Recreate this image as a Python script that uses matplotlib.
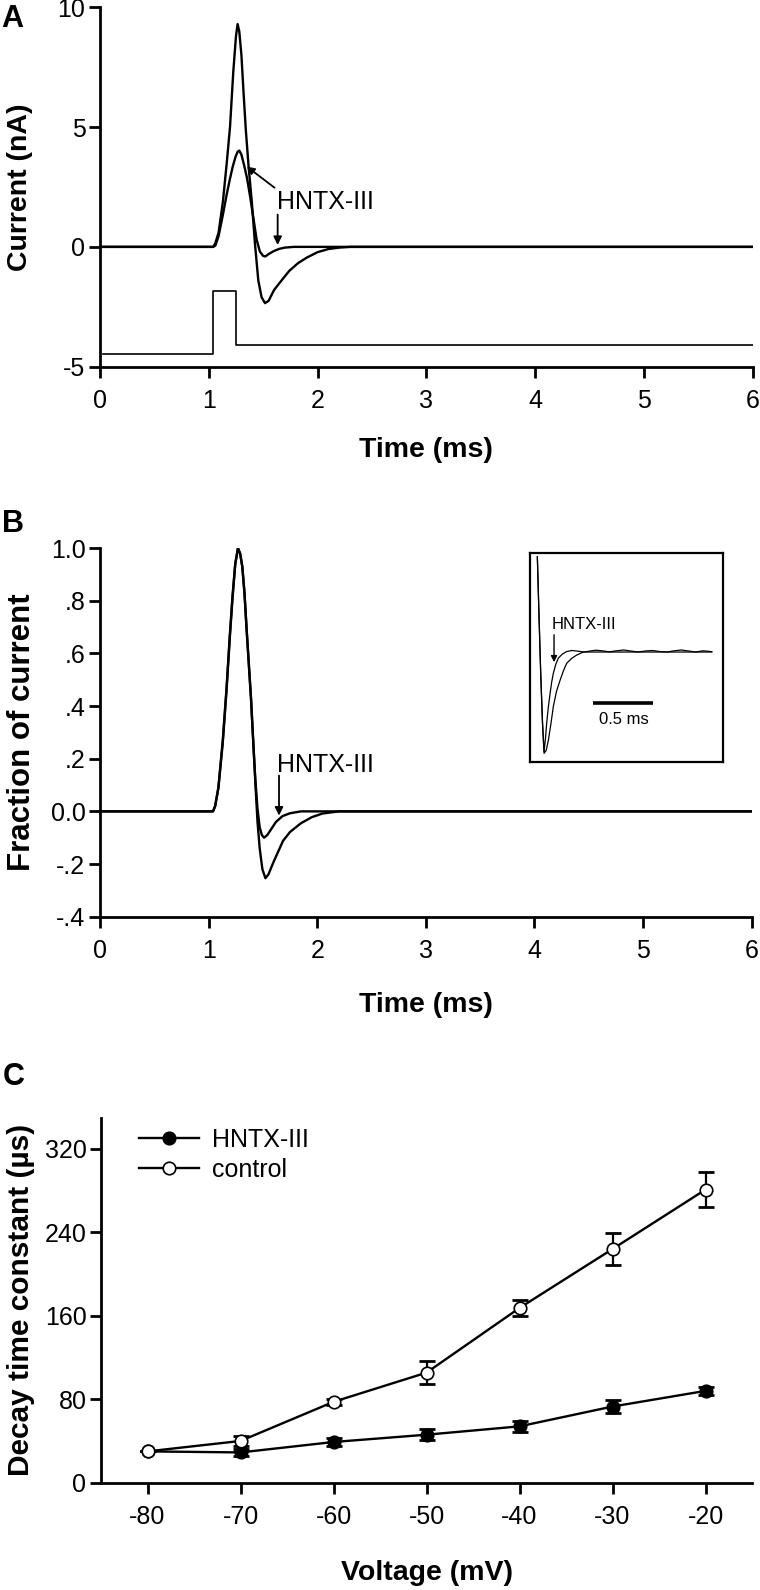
import matplotlib
matplotlib.use('Agg')
import matplotlib.pyplot as plt

plt.rcParams['font.family'] = ['Liberation Sans', 'DejaVu Sans']
plt.rcParams['axes.unicode_minus'] = False

# ---------------- panel A: currents (nA) against time (ms)
a_ctrl_t = [0.02, 1.04, 1.06, 1.09, 1.13, 1.165, 1.195, 1.225, 1.25, 1.265, 1.28, 1.30, 1.32,
            1.34, 1.365, 1.395, 1.425, 1.455, 1.485, 1.517, 1.55, 1.60, 1.66, 1.74, 1.82,
            1.90, 2.00, 2.10, 2.20, 2.30, 6.0]
a_ctrl_v = [0.0, 0.0, 0.15, 0.6, 1.9, 3.5, 5.0, 7.3, 8.8, 9.3, 9.0, 8.0, 6.4,
            4.9, 3.4, 1.9, 0.1, -1.4, -2.1, -2.35, -2.25, -1.8, -1.45, -1.0, -0.68,
            -0.45, -0.22, -0.09, -0.03, 0.0, 0.0]
a_hntx_t = [0.02, 1.04, 1.06, 1.09, 1.13, 1.165, 1.195, 1.22, 1.245, 1.265, 1.28, 1.30, 1.325,
            1.35, 1.38, 1.41, 1.44, 1.47, 1.50, 1.52, 1.55, 1.60, 1.65, 1.70, 1.78, 6.0]
a_hntx_v = [0.0, 0.0, 0.05, 0.45, 1.35, 2.2, 2.85, 3.35, 3.75, 3.97, 4.02, 3.85, 3.4,
            2.9, 2.1, 1.2, 0.3, -0.2, -0.38, -0.4, -0.3, -0.17, -0.08, -0.03, 0.0, 0.0]
a_stim_t = [0.03, 1.035, 1.035, 1.247, 1.247, 6.0]
a_stim_v = [-4.47, -4.47, -1.84, -1.84, -4.09, -4.09]
a_yticks = [-5, 0, 5, 10]
a_yticklabels = ['-5', '0', '5', '10']

time_ticks = [0, 1, 2, 3, 4, 5, 6]
time_ticklabels = ['0', '1', '2', '3', '4', '5', '6']

# ---------------- panel B: normalised currents
b_ctrl_t = [0.02, 1.04, 1.06, 1.09, 1.13, 1.165, 1.195, 1.22, 1.245, 1.27, 1.29, 1.31, 1.33,
            1.35, 1.37, 1.39, 1.41, 1.43, 1.45, 1.47, 1.495, 1.523, 1.55, 1.60, 1.685,
            1.75, 1.85, 1.95, 2.05, 2.20, 6.0]
b_ctrl_v = [0.0, 0.0, 0.02, 0.09, 0.26, 0.46, 0.66, 0.81, 0.94, 1.0, 0.98, 0.93, 0.83,
            0.69, 0.56, 0.43, 0.27, 0.11, -0.04, -0.14, -0.22, -0.254, -0.24, -0.19, -0.112,
            -0.078, -0.045, -0.022, -0.008, 0.0, 0.0]
b_hntx_t = [0.02, 1.04, 1.06, 1.09, 1.13, 1.165, 1.195, 1.22, 1.245, 1.27, 1.29, 1.31, 1.33,
            1.35, 1.37, 1.39, 1.41, 1.43, 1.45, 1.47, 1.49, 1.51, 1.54, 1.58, 1.62,
            1.68, 1.75, 1.85, 6.0]
b_hntx_v = [0.0, 0.0, 0.02, 0.09, 0.27, 0.47, 0.67, 0.82, 0.94, 1.0, 0.98, 0.93, 0.83,
            0.69, 0.56, 0.43, 0.27, 0.12, 0.01, -0.06, -0.09, -0.1, -0.09, -0.065, -0.04,
            -0.018, -0.007, 0.0, 0.0]
b_yticks = [-0.4, -0.2, 0.0, 0.2, 0.4, 0.6, 0.8, 1.0]
b_yticklabels = ['-.4', '-.2', '0.0', '.2', '.4', '.6', '.8', '1.0']

# inset of panel B (tail currents, scaled to the negative peak)
in_ctrl_t = [0.061, 0.075, 0.089, 0.104, 0.117, 0.135, 0.153, 0.175, 0.194, 0.22, 0.25,
             0.28, 0.306, 0.35, 0.389, 0.444, 1.514]
in_ctrl_v = [0.94, 0.35, -0.21, -0.7, -1.0, -0.97, -0.87, -0.7, -0.54, -0.39, -0.28,
             -0.18, -0.11, -0.06, -0.03, 0.0, 0.0]
in_hntx_t = [0.061, 0.075, 0.089, 0.104, 0.117, 0.128, 0.139, 0.152, 0.167, 0.18, 0.194,
             0.215, 0.236, 0.27, 0.306, 0.35, 0.40, 0.45, 0.50, 0.55, 0.60, 0.66, 0.72,
             0.78, 0.84, 0.90, 0.96, 1.02, 1.08, 1.14, 1.20, 1.26, 1.32, 1.38, 1.44, 1.514]
in_hntx_v = [0.94, 0.35, -0.21, -0.7, -0.98, -0.86, -0.70, -0.55, -0.41, -0.3, -0.21,
             -0.12, -0.06, -0.02, 0.005, 0.015, 0.008, 0.0, 0.01, 0.018, 0.012, 0.002, 0.012,
             0.02, 0.01, 0.0, 0.01, 0.015, 0.005, 0.0, 0.012, 0.02, 0.01, 0.0, 0.012, 0.004]

# ---------------- panel C: decay time constants
voltage = [-80, -70, -60, -50, -40, -30, -20]
tau_hntx = [30, 29, 39, 46, 54, 73, 88]
tau_hntx_err = [0, 3, 4, 5, 5, 6, 4]
tau_ctrl = [30, 40, 77.5, 105.5, 167.5, 224, 281]
tau_ctrl_err = [0, 5, 3, 11, 8, 15, 17]
c_yticks = [0, 80, 160, 240, 320]
c_xticklabels = ['-80', '-70', '-60', '-50', '-40', '-30', '-20']

TICK_FS = 18
LABEL_FS = 20.5


def style_axes(ax):
    for s in ['top', 'right']:
        ax.spines[s].set_visible(False)
    for s in ['left', 'bottom']:
        ax.spines[s].set_linewidth(2)
    ax.tick_params(direction='out', length=8, width=2, labelsize=TICK_FS)
    ax.tick_params(axis='x', pad=8)
    ax.tick_params(axis='y', pad=2.5)


fig = plt.figure(figsize=(7.6, 15.9), dpi=100)

# ---- A
ax_a = fig.add_axes([0.1316, 0.7694, 0.8588, 0.2260])
style_axes(ax_a)
ax_a.plot(a_ctrl_t, a_ctrl_v, color='k', lw=1.7)
ax_a.plot(a_hntx_t, a_hntx_v, color='k', lw=1.7)
ax_a.plot(a_stim_t, a_stim_v, color='k', lw=1.2)
ax_a.set_xlim(0, 6)
ax_a.set_ylim(-5, 10)
ax_a.set_xticks(time_ticks)
ax_a.set_xticklabels(time_ticklabels)
ax_a.set_yticks(a_yticks)
ax_a.set_yticklabels(a_yticklabels)
ax_a.set_xlabel('Time (ms)', fontsize=LABEL_FS, fontweight='bold', va='center')
ax_a.xaxis.set_label_coords(0.5, -0.232)
ax_a.set_ylabel('Current (nA)', fontsize=LABEL_FS, fontweight='bold', va='center')
ax_a.yaxis.set_label_coords(-0.122, 0.5)
ax_a.annotate('HNTX-III', xy=(1.35, 3.35), xytext=(1.63, 1.88), fontsize=TICK_FS,
              ha='left', va='center',
              arrowprops=dict(arrowstyle='-|>', color='k', lw=1.3, mutation_scale=11,
                              relpos=(0.0, 1.0), shrinkA=0, shrinkB=0))
ax_a.annotate('', xy=(1.633, 0.08), xytext=(1.633, 1.35),
              arrowprops=dict(arrowstyle='-|>', color='k', lw=1.3, mutation_scale=12,
                              shrinkA=0, shrinkB=0))

# ---- B
ax_b = fig.add_axes([0.1316, 0.4235, 0.8575, 0.2317])
style_axes(ax_b)
ax_b.plot(b_ctrl_t, b_ctrl_v, color='k', lw=1.7)
ax_b.plot(b_hntx_t, b_hntx_v, color='k', lw=1.7)
ax_b.set_xlim(0, 6)
ax_b.set_ylim(-0.4, 1.0)
ax_b.set_xticks(time_ticks)
ax_b.set_xticklabels(time_ticklabels)
ax_b.set_yticks(b_yticks)
ax_b.set_yticklabels(b_yticklabels)
ax_b.set_xlabel('Time (ms)', fontsize=LABEL_FS, fontweight='bold', va='center')
ax_b.xaxis.set_label_coords(0.5, -0.24)
ax_b.set_ylabel('Fraction of current', fontsize=22.5, fontweight='bold', va='center')
ax_b.yaxis.set_label_coords(-0.12, 0.5)
ax_b.text(1.63, 0.178, 'HNTX-III', fontsize=TICK_FS, ha='left', va='center')
ax_b.annotate('', xy=(1.648, -0.016), xytext=(1.648, 0.136),
              arrowprops=dict(arrowstyle='-|>', color='k', lw=1.3, mutation_scale=12,
                              shrinkA=0, shrinkB=0))

# inset
ax_in = fig.add_axes([0.6974, 0.5209, 0.2543, 0.1311])
ax_in.plot(in_ctrl_t, in_ctrl_v, color='k', lw=0.9)
ax_in.plot(in_hntx_t, in_hntx_v, color='k', lw=0.9)
ax_in.set_xlim(0, 1.61)
ax_in.set_ylim(-1.083, 0.974)
ax_in.set_xticks([])
ax_in.set_yticks([])
for s in ax_in.spines.values():
    s.set_linewidth(1.6)
ax_in.plot([0.528, 1.028], [-0.5, -0.5], color='k', lw=2.6, solid_capstyle='butt')
ax_in.text(0.778, -0.67, '0.5 ms', fontsize=12, ha='center', va='center')
ax_in.text(0.18, 0.27, 'HNTX-III', fontsize=12, ha='left', va='center')
ax_in.annotate('', xy=(0.2, -0.1), xytext=(0.2, 0.17),
               arrowprops=dict(arrowstyle='-|>', color='k', lw=1.0, mutation_scale=9,
                               shrinkA=0, shrinkB=0))

# ---- C
ax_c = fig.add_axes([0.1329, 0.0675, 0.8566, 0.2296])
style_axes(ax_c)
ax_c.errorbar(voltage, tau_ctrl, yerr=tau_ctrl_err, fmt='none', ecolor='k',
              elinewidth=1.6, capsize=5.5, capthick=2, zorder=2)
ax_c.errorbar(voltage, tau_hntx, yerr=tau_hntx_err, fmt='none', ecolor='k',
              elinewidth=1.6, capsize=5.5, capthick=2, zorder=2)
h1, = ax_c.plot(voltage, tau_hntx, color='k', lw=1.7, marker='o', ms=9,
                mfc='k', mec='k', mew=1.2, zorder=3, label='HNTX-III')
h2, = ax_c.plot(voltage, tau_ctrl, color='k', lw=1.7, marker='o', ms=9,
                mfc='white', mec='k', mew=1.2, zorder=4, label='control')
ax_c.set_xlim(-85, -15)
ax_c.set_ylim(0, 350)
ax_c.set_xticks(voltage)
ax_c.set_xticklabels(c_xticklabels)
ax_c.set_yticks(c_yticks)
ax_c.set_xlabel('Voltage (mV)', fontsize=LABEL_FS, fontweight='bold', va='center')
ax_c.xaxis.set_label_coords(0.5, -0.247)
ax_c.set_ylabel('Decay time constant (\u00b5s)', fontsize=21.5, fontweight='bold',
                va='center')
ax_c.yaxis.set_label_coords(-0.123, 0.5)
ax_c.legend(handles=[h1, h2], loc='upper left', bbox_to_anchor=(0.059, 0.972),
            frameon=False, fontsize=TICK_FS, handlelength=2.4, handletextpad=0.5,
            labelspacing=0.25, borderpad=0, borderaxespad=0)

# panel letters
fig.text(0.001, 1 - 26.7 / 1590, 'A', fontsize=22, fontweight='bold', va='baseline')
fig.text(0.002, 1 - 531.7 / 1590, 'B', fontsize=22, fontweight='bold', va='baseline')
fig.text(0.003, 1 - 1085 / 1590, 'C', fontsize=22, fontweight='bold', va='baseline')

fig.savefig('out.png', dpi=100)
